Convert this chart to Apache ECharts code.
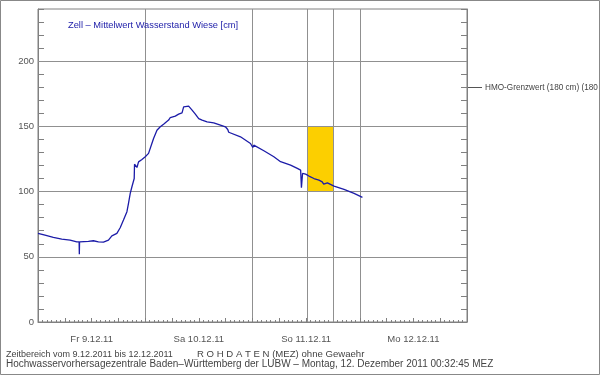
<!DOCTYPE html>
<html><head><meta charset="utf-8">
<script src="https://cdn.jsdelivr.net/npm/echarts@6/dist/echarts.min.js"></script>
<style>html,body{margin:0;padding:0;background:#fff}#c{width:600px;height:375px}</style>
</head><body><div id="c"></div>
<script>
// Time in hours since Fr 9.12.2011 00:00 (MEZ)
const HOURS = [0,1.57,3.43,5.32,7.18,8.68,9.2,9.25,9.3,9.42,11.28,12.4,12.79,13.52,14.65,15.77,16.53,17.65,18.39,19.13,19.9,20.25,20.64,21.02,21.53,21.6,22.14,22.5,23.26,24.0,24.74,25.5,25.86,26.62,27.36,28.1,29.23,29.6,30.73,31.47,32.23,32.59,32.97,33.71,34.48,35.21,35.96,36.72,37.84,39.32,40.82,41.94,42.46,42.68,43.07,45.31,47.55,48.07,48.29,50.54,52.78,54.28,56.52,58.03,58.77,58.95,59.2,59.89,60.63,61.75,62.87,63.6,63.93,64.3,64.76,66.24,68.48,70.73,72.6];
const LEVEL_CM = [68,66.7,64.9,63.6,62.8,61.5,61.5,52,61.5,61.5,61.8,62.3,63.4,61.5,61.3,62.8,66.1,68,72.3,78.2,84.6,91,98.6,103.7,110,121,118.5,122.8,124.6,126.7,129.3,137,140.7,147,149.7,151.7,154.8,156.8,157.9,159.4,160.4,165,166.3,165.5,162.5,159.4,156,154.8,153.5,152.7,151,149.7,147.6,145.5,146,142,136.9,133.8,135.6,131.3,126.7,122.9,120.3,117.8,116.5,103,113.9,113.4,111.9,110,108.8,107.5,105.7,107.2,106.7,104.2,101.7,98.6,95.6];
const DAY_LABELS = ['Fr 9.12.11','Sa 10.12.11','So 11.12.11','Mo 12.12.11'];
const Y_LABELS = [0,50,100,150,200];
const GRID_Y = [50,100,150,200];
const MARK_HOURS = [60.25,66.1];
const BOX_RANGE = [100,150];
const HMO_VALUE = 180;
const TITLE = 'Zell \u2013 Mittelwert Wasserstand Wiese [cm]';
const HMO_TEXT = 'HMO-Grenzwert (180 cm) (180 cm)';
const FOOT1A = 'Zeitbereich vom 9.12.2011 bis 12.12.2011';
const FOOT1B = 'R O H D A T E N (MEZ) ohne Gewaehr';
const FOOT2 = 'Hochwasservorhersagezentrale Baden\u2013W\u00fcrttemberg der LUBW \u2013 Montag, 12. Dezember 2011 00:32:45 MEZ';

const data = HOURS.map((h,i)=>[h, LEVEL_CM[i]]);
const GRAY = '#808080';
const FONT = 'Liberation Sans';
const f = s => s+'px "'+FONT+'"';

const chart = echarts.init(document.getElementById('c'), null, {renderer:'canvas'});
chart.setOption({
  animation:false,
  backgroundColor:'#fff',
  grid:{left:38,top:9,right:133,bottom:53,show:true,borderColor:GRAY,borderWidth:1,backgroundColor:'transparent'},
  xAxis:[
    {type:'value',min:0,max:96,interval:6,position:'bottom',
     axisLine:{show:true,onZero:false,lineStyle:{color:GRAY,width:1}},
     axisTick:{show:true,inside:true,length:4,lineStyle:{color:GRAY}},
     minorTick:{show:true,splitNumber:6,length:2,lineStyle:{color:GRAY}},
     minorSplitLine:{show:false},
     splitLine:{show:false},
     axisLabel:{margin:12,color:'#555',fontSize:9.5,fontFamily:FONT,
       formatter:v=>(v%24===12?DAY_LABELS[(v-12)/24]:'')}},
    {type:'value',min:0,max:96,interval:24,position:'top',
     axisLine:{show:false,onZero:false},axisTick:{show:false},axisLabel:{show:false},
     splitLine:{show:true,lineStyle:{color:'#909090',width:1}}}
  ],
  yAxis:[
    {type:'value',min:0,max:240,interval:10,position:'left',
     axisLine:{show:true,onZero:false,lineStyle:{color:GRAY}},
     axisTick:{show:true,inside:true,length:6,lineStyle:{color:GRAY}},
     splitLine:{show:false},
     axisLabel:{margin:4,color:'#555',fontSize:9.5,fontFamily:FONT,
       formatter:v=>(Y_LABELS.indexOf(v)>=0?String(v):'')}},
    {type:'value',min:0,max:240,interval:10,position:'right',
     axisLine:{show:true,onZero:false,lineStyle:{color:GRAY}},
     axisTick:{show:true,inside:true,length:6,lineStyle:{color:GRAY}},
     splitLine:{show:false},axisLabel:{show:false}}
  ],
  series:[
   {type:'line',name:'grid',xAxisIndex:0,yAxisIndex:0,data:[],z:1,silent:true,
    markLine:{silent:true,symbol:'none',label:{show:false},
      lineStyle:{color:'#909090',type:'solid',width:1},
      data:GRID_Y.map(v=>({yAxis:v}))}},
   {type:'line',xAxisIndex:0,yAxisIndex:0,data:data,
    showSymbol:false,symbol:'none',
    lineStyle:{color:'#1c1ca8',width:1.3},
    z:5,
    markArea:{silent:true,itemStyle:{color:'#fccf00',opacity:1},
      data:[[{xAxis:MARK_HOURS[0],yAxis:BOX_RANGE[0]},{xAxis:MARK_HOURS[1],yAxis:BOX_RANGE[1]}]]},
    markLine:{silent:true,symbol:'none',label:{show:false},
      lineStyle:{color:'#909090',type:'solid',width:1},
      data:MARK_HOURS.map(h=>({xAxis:h}))}}
  ]
});

const hy = Math.round(chart.convertToPixel({yAxisIndex:0}, HMO_VALUE)) + 0.5;
const gx = chart.convertToPixel({xAxisIndex:0}, 96);
chart.setOption({graphic:[
  {type:'rect',shape:{x:0.5,y:0.5,width:599,height:374},style:{fill:'none',stroke:'#888',lineWidth:1},silent:true},
  {type:'text',x:68,y:25,style:{text:TITLE,fill:'#1c1ca8',font:f(9.3),verticalAlign:'middle'}},
  {type:'line',shape:{x1:gx+1,y1:hy,x2:gx+15,y2:hy},style:{stroke:'#555',lineWidth:1}},
  {type:'text',x:gx+18,y:hy,style:{text:HMO_TEXT,fill:'#444',font:f(8.2),verticalAlign:'middle'}},
  {type:'text',x:6,y:355,style:{text:FOOT1A,fill:'#444',font:f(9),verticalAlign:'middle'}},
  {type:'text',x:197,y:354.5,style:{text:FOOT1B,fill:'#444',font:f(9.6),verticalAlign:'middle'}},
  {type:'text',x:6,y:364,style:{text:FOOT2,fill:'#444',font:f(10),verticalAlign:'middle'}}
]});
</script></body></html>
